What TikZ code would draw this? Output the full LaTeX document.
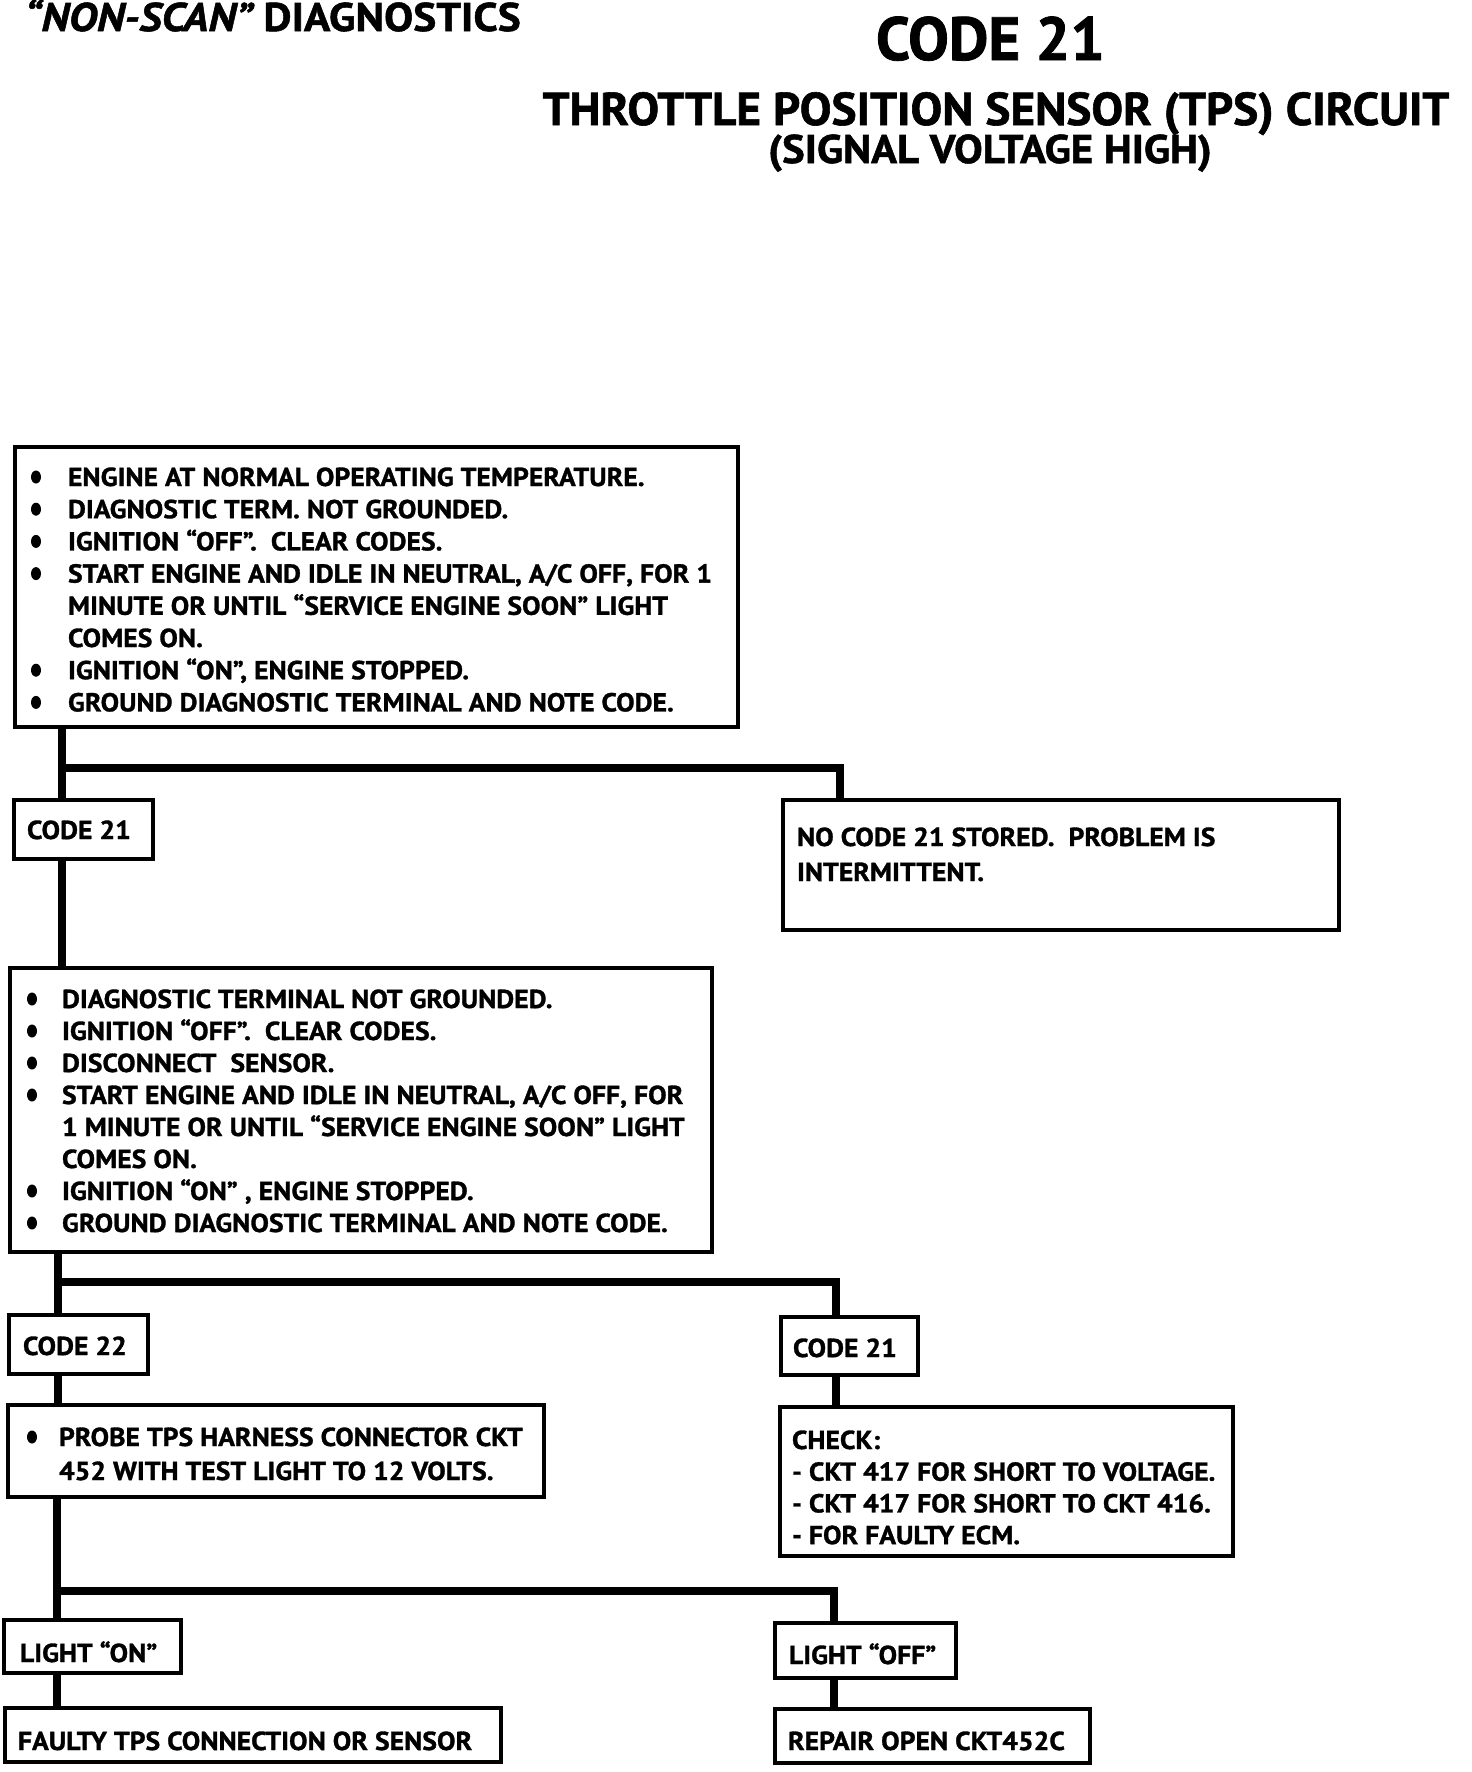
\documentclass[tikz,border=0pt]{standalone}
\usepackage{fontspec}
\setmainfont{PT Sans}[FakeStretch=1.065, FakeBold=1.2]
\newfontfamily\tA{PT Sans}[FakeStretch=1.088, FakeBold=1.3]
\newfontfamily\tB{PT Sans}[FakeStretch=1.0, FakeBold=1.3]
\newfontfamily\tC{PT Sans}[FakeStretch=1.03, FakeBold=1.3]
\newfontfamily\tD{PT Sans}[FakeStretch=1.07, FakeBold=1.3]
\newcommand\fl{\rule{0pt}{25pt}}
\begin{document}
\begin{tikzpicture}[x=1pt,y=1pt,
  box/.style={draw, line width=4pt, inner sep=0pt, outer sep=0pt, anchor=north west},
  conn/.style={line width=8.5pt, line join=miter, line cap=butt},
  txt/.style={inner sep=0pt, outer sep=0pt, anchor=north west, align=left, font=\bfseries\fontsize{26}{32.2}\selectfont},
  ttl/.style={inner sep=0pt, outer sep=0pt},
  bul/.style={fill=black}
  ]
\useasboundingbox (0,0) rectangle (1472,-1772);
\fill[white] (0,0) rectangle (1472,-1772);

% titles
\node[ttl, anchor=base west, font=\tA\bfseries\fontsize{40}{40}\selectfont] (t1) at (25,-31) {{\itshape “NON-SCAN”} DIAGNOSTICS};
\node[ttl, anchor=base west, font=\tB\bfseries\fontsize{61}{61}\selectfont] (t2) at (876,-60) {CODE 21};
\node[ttl, anchor=base, font=\tC\bfseries\fontsize{46}{46}\selectfont] (t3) at (996,-125) {THROTTLE POSITION SENSOR (TPS) CIRCUIT};
\node[ttl, anchor=base, font=\tD\bfseries\fontsize{40}{40}\selectfont] (t4) at (990,-163) {(SIGNAL VOLTAGE HIGH)};

% boxes
\node[box, minimum width=723pt, minimum height=280pt] (b1) at (15,-447) {};
\node[box, minimum width=139pt, minimum height=59pt] (c21a) at (14,-800) {};
\node[box, minimum width=556pt, minimum height=130pt] (nc) at (783,-800) {};
\node[box, minimum width=702pt, minimum height=284pt] (b2) at (10,-968) {};
\node[box, minimum width=139pt, minimum height=59pt] (c22) at (9,-1315) {};
\node[box, minimum width=137pt, minimum height=58pt] (c21b) at (781,-1317) {};
\node[box, minimum width=536pt, minimum height=92pt] (probe) at (8,-1405) {};
\node[box, minimum width=453pt, minimum height=149pt] (check) at (780,-1407) {};
\node[box, minimum width=177pt, minimum height=53pt] (lon) at (4,-1620) {};
\node[box, minimum width=181pt, minimum height=55pt] (loff) at (775,-1623) {};
\node[box, minimum width=496pt, minimum height=54pt] (faulty) at (5,-1708) {};
\node[box, minimum width=315pt, minimum height=54pt] (repair) at (775,-1709) {};

% connectors
\coordinate (j1) at (62,-768);
\coordinate (r1) at (840,-768);
\draw[conn] (b1.south -| j1) -- (c21a.north -| j1);
\draw[conn] (j1) -- (r1) -- (nc.north -| r1);
\draw[conn] (c21a.south -| j1) -- (b2.north -| j1);
\coordinate (j2) at (58,-1282);
\coordinate (r2) at (836,-1282);
\draw[conn] (b2.south -| j2) -- (c22.north -| j2);
\draw[conn] (j2) -- (r2) -- (c21b.north -| r2);
\draw[conn] (c22.south -| j2) -- (probe.north -| j2);
\draw[conn] (c21b.south -| r2) -- (check.north -| r2);
\coordinate (j3) at (57,-1591);
\coordinate (r3) at (834,-1591);
\draw[conn] (probe.south -| j3) -- (lon.north -| j3);
\draw[conn] (j3) -- (r3) -- (loff.north -| r3);
\draw[conn] (lon.south -| j3) -- (faulty.north -| j3);
\draw[conn] (loff.south -| r3) -- (repair.north -| r3);

% texts
\node[txt] (b1t) at (68,-461) {\fl ENGINE AT NORMAL OPERATING TEMPERATURE.\\
DIAGNOSTIC TERM. NOT GROUNDED.\\
IGNITION “OFF”.\ \ CLEAR CODES.\\
START ENGINE AND IDLE IN NEUTRAL, A/C OFF, FOR 1\\
MINUTE OR UNTIL “SERVICE ENGINE SOON” LIGHT\\
COMES ON.\\
IGNITION “ON”, ENGINE STOPPED.\\
GROUND DIAGNOSTIC TERMINAL AND NOTE CODE.};
\foreach \yy in {477,509.2,541.4,573.6,670.2,702.4} \fill[bul] (36,-\yy) ellipse (5 and 6.5);

\node[txt] (c21at) at (27,-814) {\fl CODE 21};
\node[txt, font=\bfseries\fontsize{26}{35}\selectfont] (nct) at (797,-821) {\fl NO CODE 21 STORED.\ \ PROBLEM IS\\ INTERMITTENT.};

\node[txt, font=\bfseries\fontsize{26}{32}\selectfont] (b2t) at (62,-983) {\fl DIAGNOSTIC TERMINAL NOT GROUNDED.\\
IGNITION “OFF”.\ \ CLEAR CODES.\\
DISCONNECT\ \ SENSOR.\\
START ENGINE AND IDLE IN NEUTRAL, A/C OFF, FOR\\
1 MINUTE OR UNTIL “SERVICE ENGINE SOON” LIGHT\\
COMES ON.\\
IGNITION “ON” , ENGINE STOPPED.\\
GROUND DIAGNOSTIC TERMINAL AND NOTE CODE.};
\foreach \yy in {999,1031,1063,1095,1191,1223} \fill[bul] (32,-\yy) ellipse (5 and 6.5);

\node[txt] (c22t) at (23,-1330) {\fl CODE 22};
\node[txt] (c21bt) at (793,-1332) {\fl CODE 21};
\node[txt, font=\bfseries\fontsize{26}{34}\selectfont] (probet) at (59,-1421) {\fl PROBE TPS HARNESS CONNECTOR CKT\\ 452 WITH TEST LIGHT TO 12 VOLTS.};
\fill[bul] (32,-1437) ellipse (5 and 6.5);
\node[txt, font=\bfseries\fontsize{26}{31.7}\selectfont] (checkt) at (792,-1424) {\fl CHECK:\\ - CKT 417 FOR SHORT TO VOLTAGE.\\ - CKT 417 FOR SHORT TO CKT 416.\\ - FOR FAULTY ECM.};
\node[txt] (lont) at (20,-1637) {\fl LIGHT “ON”};
\node[txt] (lofft) at (789,-1639) {\fl LIGHT “OFF”};
\node[txt] (faultyt) at (18,-1725) {\fl FAULTY TPS CONNECTION OR SENSOR};
\node[txt] (repairt) at (788,-1725) {\fl REPAIR OPEN CKT452C};
\end{tikzpicture}
\end{document}
